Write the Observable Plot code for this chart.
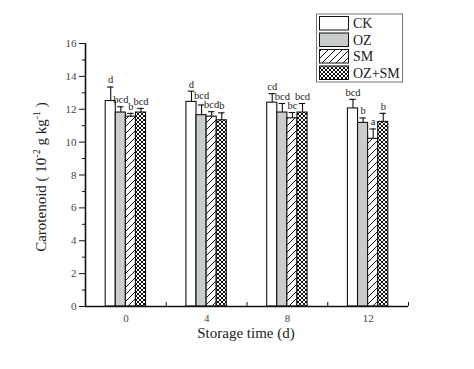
<!DOCTYPE html>
<html>
<head>
<meta charset="utf-8">
<script src="https://cdn.jsdelivr.net/npm/d3@7"></script>
<script src="https://cdn.jsdelivr.net/npm/@observablehq/plot@0.6"></script>
<style>
  body { margin: 0; background: #fff; }
  #chart { width: 474px; height: 369px; }
</style>
</head>
<body>
<div id="chart"></div>
<script>
// ---- data ----
const times = [0, 4, 8, 12];
const seriesNames = ["CK", "OZ", "SM", "OZ+SM"];
const ckValues   = [12.5, 12.45, 12.4, 12.05];
const ckErrors   = [0.85, 0.65, 0.55, 0.55];
const ozValues   = [11.8, 11.64, 11.8, 11.17];
const ozErrors   = [0.35, 0.62, 0.55, 0.3];
const smValues   = [11.55, 11.55, 11.45, 10.2];
const smErrors   = [0.2, 0.3, 0.35, 0.6];
const ozsmValues = [11.8, 11.33, 11.8, 11.23];
const ozsmErrors = [0.25, 0.45, 0.55, 0.52];
const ckLetters   = ["d", "d", "cd", "bcd"];
const ozLetters   = ["bcd", "bcd", "bcd", "b"];
const smLetters   = ["b", "bcd", "bc", "a"];
const ozsmLetters = ["bcd", "b", "bcd", "b"];
const yMajorTicks = [0, 2, 4, 6, 8, 10, 12, 14, 16];
const yMinorTicks = [1, 3, 5, 7, 9, 11, 13, 15];
const xMajorTicks = [0, 4, 8, 12];
const xMinorTicks = [2, 6, 10, 14];

const fills = {"CK": "#ffffff", "OZ": "#c9cecb", "SM": "url(#hatchSM)", "OZ+SM": "url(#hatchX)"};
const allValues = [ckValues, ozValues, smValues, ozsmValues];
const allErrors = [ckErrors, ozErrors, smErrors, ozsmErrors];
const allLetters = [ckLetters, ozLetters, smLetters, ozsmLetters];

const barW = 0.5;
const rows = [];
seriesNames.forEach((s, si) => {
  times.forEach((t, ti) => {
    const x1 = t - 2 * barW + si * barW;
    rows.push({series: s, time: t, x1, x2: x1 + barW, xc: x1 + barW / 2,
      value: allValues[si][ti], err: allValues[si][ti] + allErrors[si][ti],
      letter: allLetters[si][ti]});
  });
});

const serif = "'Liberation Serif', 'Times New Roman', serif";

const marks = [];
seriesNames.forEach(s => {
  marks.push(Plot.rectY(rows.filter(d => d.series === s), {
    x1: "x1", x2: "x2", y1: 0, y2: "value",
    fill: fills[s], stroke: "#111", strokeWidth: 1.1
  }));
});
marks.push(
  Plot.ruleX(rows, {x: "xc", y1: "value", y2: "err", stroke: "#111", strokeWidth: 1.1}),
  Plot.ruleY(rows, {y: "err", x1: d => d.xc - 0.16, x2: d => d.xc + 0.16, stroke: "#111", strokeWidth: 1.1}),
  Plot.text(rows, {x: "xc", y: "err", text: "letter", dy: -7, fontSize: 10.5, fill: "#222", className: "letters"}),
  Plot.axisY({ticks: yMajorTicks, tickSize: 6, tickPadding: 3, fontSize: 11, label: null, stroke: "#111", fill: "#444"}),
  Plot.axisY({ticks: yMinorTicks, tickSize: 3, tickFormat: () => "", label: null, stroke: "#111"}),
  Plot.axisX({ticks: xMajorTicks, tickSize: 0, tickPadding: 8, fontSize: 11, label: null, fill: "#444"}),
  Plot.axisX({ticks: xMinorTicks, tickSize: -4, tickFormat: () => "", label: null, stroke: "#111"}),
  Plot.ruleY([0], {stroke: "#111", strokeWidth: 1.6}),
  Plot.ruleX([-2], {y1: 0, y2: 16, stroke: "#111", strokeWidth: 1.6})
);

const svg = Plot.plot({
  width: 474,
  height: 369,
  marginLeft: 85,
  marginRight: 66,
  marginTop: 43,
  marginBottom: 63,
  x: {type: "linear", domain: [-2, 14], axis: null},
  y: {domain: [0, 16], axis: null},
  style: {fontFamily: serif, background: "#fff", color: "#111"},
  marks
});

const sel = d3.select(svg);
const defs = sel.insert("defs", ":first-child");
const p1 = defs.append("pattern").attr("id", "hatchSM").attr("patternUnits", "userSpaceOnUse")
  .attr("width", 7).attr("height", 7);
p1.append("rect").attr("width", 7).attr("height", 7).attr("fill", "#fff");
p1.append("path").attr("d", "M-1,8 L8,-1 M-2,2 L2,-2 M5,9 L9,5").attr("stroke", "#111").attr("stroke-width", 1);
const p2 = defs.append("pattern").attr("id", "hatchX").attr("patternUnits", "userSpaceOnUse")
  .attr("width", 4).attr("height", 4);
p2.append("rect").attr("width", 4).attr("height", 4).attr("fill", "#fff");
p2.append("path").attr("d", "M0,0 L4,4 M4,0 L0,4").attr("stroke", "#111").attr("stroke-width", 1);

// axis titles
sel.append("text")
  .attr("x", 246).attr("y", 338)
  .attr("text-anchor", "middle")
  .attr("font-family", serif).attr("font-size", 15).attr("fill", "#222")
  .text("Storage time (d)");
const yt = sel.append("text")
  .attr("transform", "translate(46,177) rotate(-90)")
  .attr("text-anchor", "middle")
  .attr("font-family", serif).attr("font-size", 15).attr("fill", "#222");
yt.append("tspan").text("Carotenoid ( 10");
yt.append("tspan").attr("dy", -6).attr("font-size", 10).text("-2");
yt.append("tspan").attr("dy", 6).text(" g kg");
yt.append("tspan").attr("dy", -6).attr("font-size", 10).text("-1");
yt.append("tspan").attr("dy", 6).text(" )");

// legend
const lg = sel.append("g").attr("text-anchor", "start");
lg.append("rect").attr("x", 316.5).attr("y", 14).attr("width", 86).attr("height", 68)
  .attr("fill", "#fff").attr("stroke", "#777").attr("stroke-width", 1);
seriesNames.forEach((s, i) => {
  const y = 16.5 + i * 16.5;
  lg.append("rect").attr("x", 319.5).attr("y", y).attr("width", 29).attr("height", 13.5)
    .attr("fill", fills[s]).attr("stroke", "#111").attr("stroke-width", 1);
  lg.append("text").attr("x", 353).attr("y", y + 11.5).attr("text-anchor", "start")
    .attr("font-family", serif).attr("font-size", 14).attr("fill", "#222").text(s);
});

document.getElementById("chart").appendChild(svg);

// lift a letter label only when it is already the higher one and still collides
// with its right neighbour (glyph boxes, ignoring line-height padding)
const letterNodes = sel.selectAll("g.letters text").nodes();
const glyphBox = el => {
  const r = el.getBoundingClientRect();
  return {left: r.left + 1, right: r.right - 1, top: r.top + 0.15 * r.height, bottom: r.bottom - 0.1 * r.height};
};
times.forEach((t, ti) => {
  const a = letterNodes[1 * times.length + ti];   // OZ
  const b = letterNodes[2 * times.length + ti];   // SM
  if (!a || !b) return;
  const ra = glyphBox(a), rb = glyphBox(b);
  const hOverlap = ra.right > rb.left && rb.right > ra.left;
  const vOverlap = ra.bottom > rb.top && rb.bottom > ra.top;
  if (hOverlap && vOverlap && ra.top <= rb.top) {
    const lift = ra.bottom - rb.top + 1;
    a.setAttribute("transform", (a.getAttribute("transform") || "") + ` translate(0,${-lift})`);
  }
});
</script>
</body>
</html>
